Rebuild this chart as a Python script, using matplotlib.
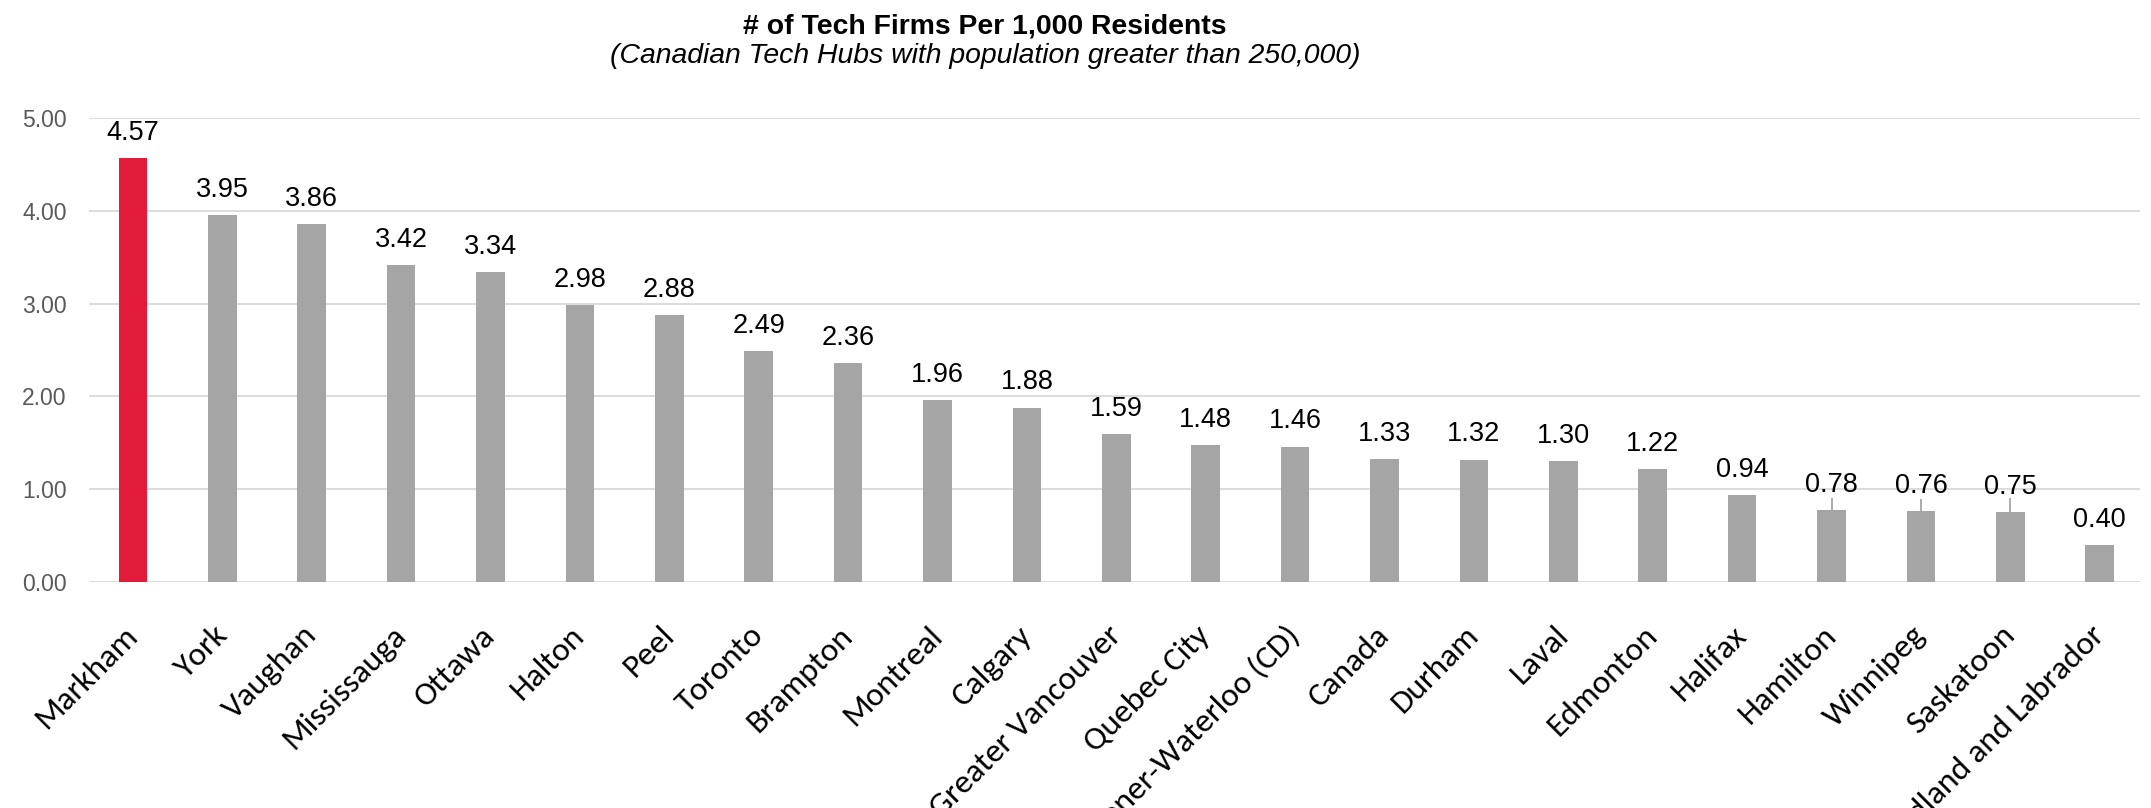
import matplotlib.pyplot as plt
import matplotlib.transforms as mtransforms
import numpy as np

cities = ['Markham', 'York', 'Vaughan', 'Mississauga', 'Ottawa', 'Halton', 'Peel',
          'Toronto', 'Brampton', 'Montreal', 'Calgary', 'Greater Vancouver',
          'Quebec City', 'Kitchener-Waterloo (CD)', 'Canada', 'Durham', 'Laval',
          'Edmonton', 'Halifax', 'Hamilton', 'Winnipeg', 'Saskatoon',
          'Newfoundland and Labrador']
firms = [4.57, 3.95, 3.86, 3.42, 3.34, 2.98, 2.88, 2.49, 2.36, 1.96, 1.88, 1.59,
         1.48, 1.46, 1.33, 1.32, 1.30, 1.22, 0.94, 0.78, 0.76, 0.75, 0.40]
# small upper error whiskers seen on three bars
err_up = [0, 0, 0, 0, 0, 0, 0, 0, 0, 0, 0, 0,
          0, 0, 0, 0, 0, 0, 0, 0.13, 0.13, 0.15, 0]
highlight = 'Markham'

red = '#E31B3A'
grey = '#A5A5A5'

fig = plt.figure(figsize=(21.51, 8.08), dpi=100)
ax = fig.add_axes([89 / 2151, 226 / 808, 2051 / 2151, 464 / 808])

x = np.arange(len(cities))
colors = [red if c == highlight else grey for c in cities]
ax.bar(x, firms, width=0.32, color=colors, zorder=3)

has_err = [i for i, e in enumerate(err_up) if e > 0]
ax.errorbar([x[i] for i in has_err], [firms[i] for i in has_err],
            yerr=[[0] * len(has_err), [err_up[i] for i in has_err]],
            fmt='none', ecolor=grey, elinewidth=1.3, capsize=0, zorder=2)

for xi, v in zip(x, firms):
    ax.annotate(f'{v:.2f}', (xi, v), xytext=(0, 13), textcoords='offset points',
                ha='center', va='baseline', fontsize=19.5,
                family='Liberation Sans', color='black')

ax.set_xlim(-0.49, 22.45)
ax.set_ylim(0, 5)
ax.set_yticks([0, 1, 2, 3, 4, 5])
ax.set_yticklabels([f'{t:.2f}' for t in [0, 1, 2, 3, 4, 5]],
                   fontsize=16.5, family='Liberation Sans', color='#595959')
ax.set_xticks(x)
ax.set_xticklabels(cities, rotation=45, ha='right', va='center',
                   rotation_mode='anchor', fontsize=24,
                   family=['Carlito', 'Lato'])
# nudge labels a little to the right, like the original
shift = mtransforms.ScaledTranslation(7 / 100, 0, fig.dpi_scale_trans)
for lab in ax.get_xticklabels():
    lab.set_transform(lab.get_transform() + shift)
ax.tick_params(axis='both', length=0)
ax.tick_params(axis='y', pad=16)
ax.tick_params(axis='x', pad=35)
ax.grid(axis='y', color='#D9D9D9', linewidth=1.3, zorder=0)
for s in ax.spines.values():
    s.set_visible(False)

fig.text(0.458, 1 - 33 / 808, '# of Tech Firms Per 1,000 Residents',
         ha='center', va='baseline', fontsize=20.4, fontweight='bold',
         family='Liberation Sans')
fig.text(0.458, 1 - 63 / 808,
         '(Canadian Tech Hubs with population greater than 250,000)',
         ha='center', va='baseline', fontsize=20.4, style='italic',
         family='Liberation Sans')

fig.savefig('out.png', dpi=100)
